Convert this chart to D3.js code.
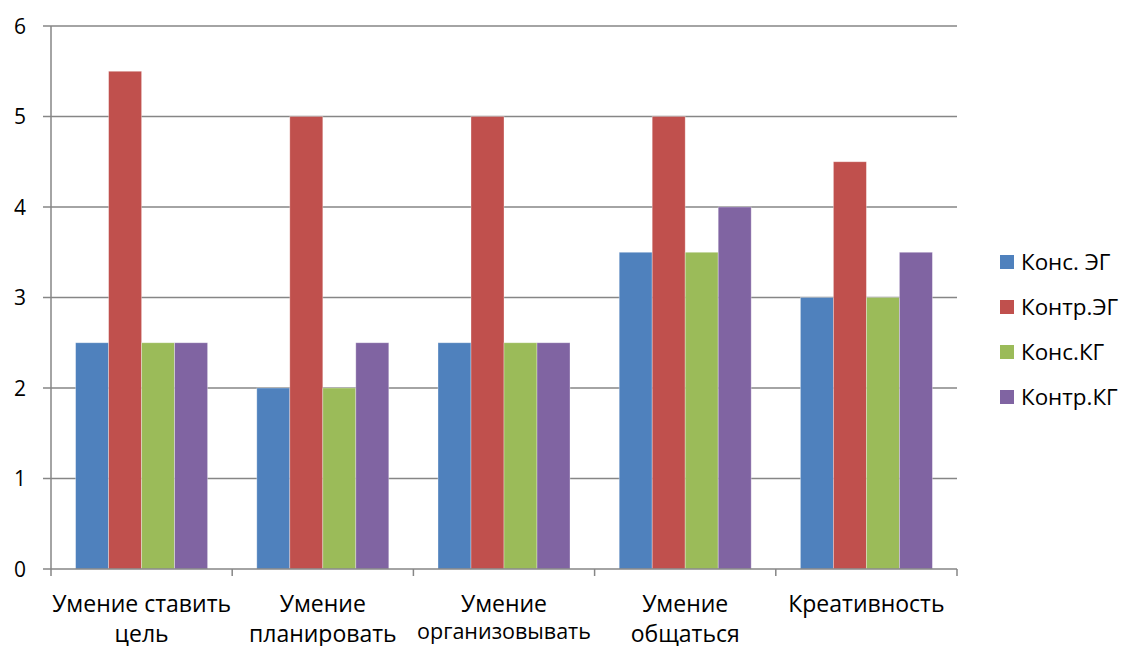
<!DOCTYPE html>
<html><head><meta charset="utf-8">
<script src="https://cdn.jsdelivr.net/npm/d3@7"></script>
<style>body{margin:0;background:#fff}text{font-family:"Open Sans",sans-serif;fill:#000}</style>
</head><body><svg id="c" width="1123" height="646"></svg>
<script>
const categories = [["Умение ставить","цель"],["Умение","планировать"],["Умение","организовывать"],["Умение","общаться"],["Креативность"]];
const seriesNames = ["Конс. ЭГ","Контр.ЭГ","Конс.КГ","Контр.КГ"];
const seriesColors = ["#4F81BD","#C0504D","#9BBB59","#8064A2"];
const konsEG = [2.5,2,2.5,3.5,3];
const kontrEG = [5.5,5,5,5,4.5];
const konsKG = [2.5,2,2.5,3.5,3];
const kontrKG = [2.5,2.5,2.5,4,3.5];
const yTicks = [0,1,2,3,4,5,6];
const series = [konsEG,kontrEG,konsKG,kontrKG];

const svg = d3.select("#c");
const L=51,R=957,T=26,B=569;
const x0 = d3.scaleBand().domain(d3.range(categories.length)).range([L,R]).paddingInner(0).paddingOuter(0);
const inner = 4*33;
const x1 = d3.scaleBand().domain(d3.range(series.length)).range([0,x0.bandwidth()]).paddingInner(0).paddingOuter((x0.bandwidth()-inner)/2/ (inner/4));
const y = d3.scaleLinear().domain([0,6]).range([B,T]);
const grey="#868686";
svg.append("g").selectAll("line").data(yTicks.filter(d=>d>0)).join("line")
 .attr("x1",L-8).attr("x2",R).attr("y1",d=>y(d)).attr("y2",d=>y(d)).attr("stroke",grey).attr("stroke-width",1.5);
series.forEach((s,i)=>{
 svg.append("g").selectAll("rect").data(s).join("rect")
  .attr("x",(d,j)=>x0(j)+x1(i)).attr("width",x1.bandwidth())
  .attr("y",d=>y(d)).attr("height",d=>B-y(d)).attr("fill",seriesColors[i])
  .attr("stroke","#fff").attr("stroke-opacity",0.4).attr("stroke-width",0.8);
});
svg.append("line").attr("x1",L).attr("x2",L).attr("y1",T).attr("y2",B).attr("stroke",grey).attr("stroke-width",1.5);
svg.append("line").attr("x1",L-8).attr("x2",R).attr("y1",B).attr("y2",B).attr("stroke",grey).attr("stroke-width",1.5);
svg.append("g").selectAll("line").data(d3.range(categories.length+1)).join("line")
 .attr("x1",d=>L+d*x0.bandwidth()).attr("x2",d=>L+d*x0.bandwidth()).attr("y1",B).attr("y2",B+7).attr("stroke",grey).attr("stroke-width",1.5);
svg.append("g").selectAll("text").data(yTicks).join("text")
 .attr("x",26).attr("y",d=>y(d)+7.5).attr("text-anchor","end").attr("font-size",21).text(d=>d);
categories.forEach((c,j)=>{
 const cx = x0(j)+x0.bandwidth()/2;
 c.forEach((line,k)=>{
  const small = line==="организовывать";
  svg.append("text").attr("x",cx).attr("y",k===0?612:(small?639:642)).attr("text-anchor","middle")
   .attr("font-size", small?21.5:23).text(line);
 });
});
const lg = svg.append("g");
seriesNames.forEach((n,i)=>{
 const yy = 262+i*45;
 lg.append("rect").attr("x",1000).attr("y",yy-7).attr("width",14).attr("height",14).attr("fill",seriesColors[i]);
 lg.append("text").attr("x",1021).attr("y",yy+8).attr("font-size",22.4).text(n);
});
</script></body></html>
